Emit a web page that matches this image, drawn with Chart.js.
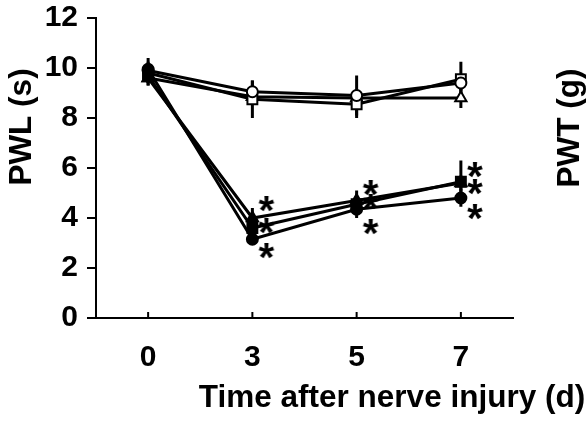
<!DOCTYPE html>
<html>
<head>
<meta charset="utf-8">
<script src="https://cdn.jsdelivr.net/npm/chart.js@4.4.0/dist/chart.umd.min.js"></script>
<style>
  html, body { margin: 0; padding: 0; background: #fff; }
  #wrap { width: 587px; height: 421px; }
</style>
</head>
<body>
<div id="wrap"><canvas id="pwlChart" width="587" height="421"></canvas></div>
<script>
// ─── PWL time course ───
const days = ['0', '3', '5', '7'];

// sham groups (open symbols)
const shamCircle   = [9.9, 9.05, 8.9, 9.4];
const shamSquare   = [9.8, 8.75, 8.55, 9.55];
const shamTriangle = [9.6, 8.85, 8.8, 8.8];
// nerve injury groups (filled symbols)
const injCircle    = [9.95, 3.15, 4.35, 4.8];
const injSquare    = [9.7, 3.6, 4.55, 5.45];
const injTriangle  = [9.6, 4.0, 4.7, 5.4];

// SEM for each group
const semShamCircle   = [0.5, 0.45, 0.8, 0.3];
const semShamSquare   = [0.3, 0.75, 0.55, 0.7];
const semShamTriangle = [0.3, 0.3, 0.3, 0.4];
const semInjCircle    = [0.3, 0.15, 0.35, 0.35];
const semInjSquare    = [0.3, 0.3, 0.3, 0.85];
const semInjTriangle  = [0.3, 0.4, 0.4, 0.3];

// significance marks (*) - y level of each star
const starsHigh = [null, 4.56, 5.2, 5.92];
const starsMid  = [null, 3.68, 4.64, 5.24];
const starsLow  = [null, 2.68, 3.64, 4.24];

const FONT = 'Liberation Sans, Arial, Helvetica, sans-serif';

// star drawn a bit right of the point
function makeStar() {
    const c = document.createElement('canvas');
    c.width = 48; c.height = 34;
    const g = c.getContext('2d');
    g.font = 'bold 40px ' + FONT;
    g.fillStyle = '#000';
    g.textAlign = 'center';
    g.textBaseline = 'alphabetic';
    const m = g.measureText('*');
    const base = 17 + (m.actualBoundingBoxAscent - m.actualBoundingBoxDescent) / 2;
    g.fillText('*', 38, base);
    return c;
}
const starImg = makeStar();

function series(data, sem, style, filled, r) {
    return {
        data: data,
        sem: sem,
        borderColor: '#000',
        borderWidth: 3,
        pointStyle: style,
        pointRadius: r,
        pointBorderWidth: 2,
        pointBorderColor: '#000',
        pointBackgroundColor: filled ? '#000' : '#fff',
        tension: 0
    };
}
function stars(data) {
    return { data: data, showLine: false, pointStyle: starImg, pointRadius: 10 };
}

const errorBars = {
    id: 'errorBars',
    beforeDatasetsDraw(chart) {
        const ctx = chart.ctx, y = chart.scales.y;
        ctx.save();
        ctx.strokeStyle = '#000';
        ctx.lineWidth = 3;
        chart.data.datasets.forEach(function(ds, i) {
            if (!ds.sem) return;
            chart.getDatasetMeta(i).data.forEach(function(pt, j) {
                const v = ds.data[j], e = ds.sem[j];
                ctx.beginPath();
                ctx.moveTo(pt.x, y.getPixelForValue(v + e));
                ctx.lineTo(pt.x, y.getPixelForValue(v - e));
                ctx.stroke();
            });
        });
        ctx.restore();
    }
};

// inward x ticks + titles
const decor = {
    id: 'decor',
    afterDraw(chart) {
        const ctx = chart.ctx, x = chart.scales.x, area = chart.chartArea;
        ctx.save();
        ctx.strokeStyle = '#000';
        ctx.lineWidth = 2;
        x.ticks.forEach(function(t, i) {
            const px = x.getPixelForTick(i);
            ctx.beginPath();
            ctx.moveTo(px, area.bottom);
            ctx.lineTo(px, area.bottom - 6);
            ctx.stroke();
        });
        ctx.fillStyle = '#000';
        ctx.font = 'bold 31.5px ' + FONT;
        ctx.textAlign = 'center';
        ctx.textBaseline = 'middle';
        ctx.fillText('Time after nerve injury (d)', 392, 398);
        ctx.translate(22, 127);
        ctx.rotate(-Math.PI / 2);
        ctx.fillText('PWL (s)', 0, 0);
        ctx.rotate(Math.PI / 2);
        ctx.translate(570 - 22, 128 - 127);
        ctx.rotate(-Math.PI / 2);
        ctx.fillText('PWT (g)', 0, 0);
        ctx.restore();
    }
};

new Chart(document.getElementById('pwlChart').getContext('2d'), {
    type: 'line',
    data: {
        labels: days,
        datasets: [
            series(injCircle, semInjCircle, 'circle', true, 5.5),
            series(injSquare, semInjSquare, 'rect', true, 7),
            series(injTriangle, semInjTriangle, 'triangle', true, 6.5),
            series(shamCircle, semShamCircle, 'circle', false, 5.5),
            series(shamSquare, semShamSquare, 'rect', false, 7),
            series(shamTriangle, semShamTriangle, 'triangle', false, 6.5),
            stars(starsHigh),
            stars(starsMid),
            stars(starsLow)
        ]
    },
    options: {
        responsive: false,
        animation: false,
        layout: { padding: { top: 18, right: 74, left: 0, bottom: 0 } },
        plugins: { legend: { display: false }, tooltip: { enabled: false } },
        scales: {
            x: {
                type: 'category',
                offset: true,
                grid: { display: true, drawOnChartArea: false, drawTicks: false, color: '#000' },
                border: { display: true, color: '#000', width: 2 },
                ticks: { color: '#000', padding: 22, font: { family: FONT, size: 30, weight: 'bold' } },
                afterFit: function(s) { s.height = 103; }
            },
            y: {
                min: 0,
                max: 12,
                grid: { display: true, drawOnChartArea: false, drawTicks: true, tickLength: 9, color: '#000', lineWidth: 2 },
                border: { display: true, color: '#000', width: 2 },
                ticks: { stepSize: 2, color: '#000', padding: 9, font: { family: FONT, size: 30, weight: 'bold', lineHeight: 0.6 } },
                afterFit: function(s) { s.width = 96; }
            }
        }
    },
    plugins: [errorBars, decor]
});
</script>
</body>
</html>
